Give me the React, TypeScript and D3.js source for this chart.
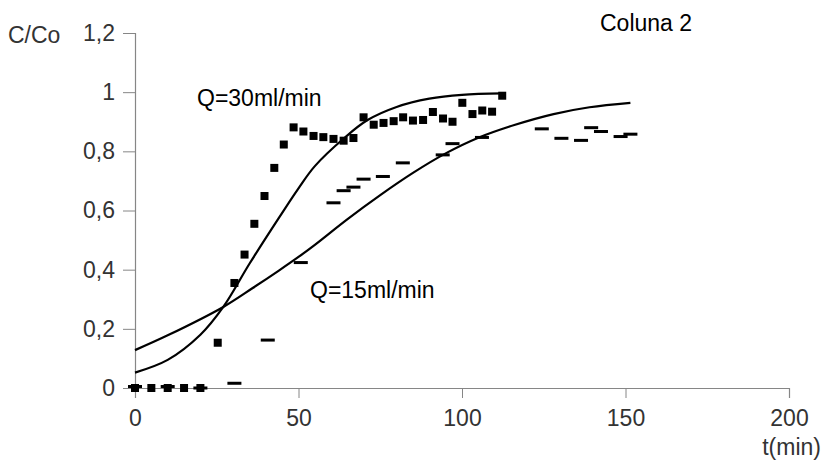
import * as d3 from "d3";
import React, { useEffect, useRef } from "react";

// Q=30ml/min measured points (t in min, C/Co)
const t30 = [0, 5, 10, 15, 20, 25.3, 30.4, 33.5, 36.5, 39.6, 42.6, 45.5, 48.5, 51.5, 54.6, 57.6, 60.7, 63.8, 66.8, 69.9, 73, 76, 79.1, 82, 85, 88.1, 91.1, 94.2, 97.1, 100.1, 103.2, 106.2, 109.2, 112.3];
const c30 = [0, 0, 0, 0, 0, 0.153, 0.355, 0.451, 0.555, 0.649, 0.744, 0.823, 0.881, 0.867, 0.852, 0.848, 0.842, 0.836, 0.845, 0.915, 0.89, 0.896, 0.902, 0.915, 0.904, 0.906, 0.933, 0.911, 0.9, 0.964, 0.926, 0.938, 0.934, 0.988];

// Q=15ml/min measured points
const t15 = [0, 10, 20, 30.4, 40.6, 50.7, 60.7, 63.8, 66.8, 69.9, 75.8, 81.9, 94.1, 97.1, 106.1, 124.4, 130.4, 136.4, 139.5, 142.5, 148.5, 151.5];
const c15 = [0.005, 0.005, 0, 0.016, 0.162, 0.424, 0.626, 0.667, 0.679, 0.706, 0.715, 0.761, 0.788, 0.826, 0.847, 0.876, 0.844, 0.837, 0.88, 0.867, 0.85, 0.858];

// fitted curves
const fitT30 = [0, 10, 20, 27, 35, 44, 50, 55, 64, 71, 80, 90, 100, 112.3];
const fitC30 = [0.052, 0.095, 0.18, 0.274, 0.42, 0.575, 0.675, 0.75, 0.845, 0.905, 0.95, 0.978, 0.991, 0.996];
const fitT15 = [0, 10, 27, 36, 44, 50, 55, 65, 75, 85, 95, 105, 116, 128, 139, 151.5];
const fitC15 = [0.128, 0.178, 0.274, 0.338, 0.397, 0.443, 0.484, 0.571, 0.652, 0.727, 0.793, 0.846, 0.889, 0.926, 0.949, 0.964];

const xTicks = [0, 50, 100, 150, 200];
const yTicks = [0, 0.2, 0.4, 0.6, 0.8, 1, 1.2];

export default function App() {
  const svgRef = useRef(null);
  const width = 824;
  const height = 474;
  const margin = { top: 33, right: 35, bottom: 86, left: 135 };
  const font = "'Liberation Sans', Arial, sans-serif";
  const fontSize = "23px";

  useEffect(() => {
    const svgEl = d3.select(svgRef.current);
    svgEl.selectAll("*").remove();

    const xScale = d3.scaleLinear().domain([0, 200]).range([margin.left, width - margin.right]);
    const yScale = d3.scaleLinear().domain([0, 1.2]).range([height - margin.bottom, margin.top]);
    const axisColor = "#868686";
    const textColor = "#333";

    // X axis
    const gx = svgEl
      .append("g")
      .attr("transform", "translate(0," + yScale(0) + ")")
      .call(d3.axisBottom(xScale).tickValues(xTicks).tickSize(10).tickPadding(12).tickFormat((d) => String(d)));
    gx.select(".domain").attr("stroke", axisColor).attr("stroke-width", 1.2);
    gx.selectAll("line").attr("stroke", axisColor);
    gx.selectAll("text").attr("fill", textColor).attr("font-size", fontSize).attr("font-family", font);

    // Y axis
    const gy = svgEl
      .append("g")
      .attr("transform", "translate(" + xScale(0) + ",0)")
      .call(
        d3
          .axisLeft(yScale)
          .tickValues(yTicks)
          .tickSize(12)
          .tickPadding(8)
          .tickFormat((d) => (d === 0 ? "0" : d3.format("~g")(d).replace(".", ",")))
      );
    gy.select(".domain").attr("stroke", axisColor).attr("stroke-width", 1.2);
    gy.selectAll("line").attr("stroke", axisColor);
    gy.selectAll("text").attr("fill", textColor).attr("font-size", fontSize).attr("font-family", font);

    const line = d3
      .line()
      .x((d) => xScale(d[0]))
      .y((d) => yScale(d[1]))
      .curve(d3.curveCatmullRom.alpha(0.5));

    svgEl
      .append("path")
      .datum(fitT30.map((t, i) => [t, fitC30[i]]))
      .attr("fill", "none")
      .attr("stroke", "#000")
      .attr("stroke-width", 2.2)
      .attr("d", line);

    svgEl
      .append("path")
      .datum(fitT15.map((t, i) => [t, fitC15[i]]))
      .attr("fill", "none")
      .attr("stroke", "#000")
      .attr("stroke-width", 2.2)
      .attr("d", line);

    // 15 ml/min dashes
    svgEl
      .append("g")
      .selectAll("rect")
      .data(t15.map((t, i) => [t, c15[i]]))
      .join("rect")
      .attr("x", (d) => xScale(d[0]) - 7)
      .attr("y", (d) => yScale(d[1]) - 1.5)
      .attr("width", 14)
      .attr("height", 3)
      .attr("fill", "#000");

    // 30 ml/min squares
    svgEl
      .append("g")
      .selectAll("rect")
      .data(t30.map((t, i) => [t, c30[i]]))
      .join("rect")
      .attr("x", (d) => xScale(d[0]) - 4)
      .attr("y", (d) => yScale(d[1]) - 4)
      .attr("width", 8)
      .attr("height", 8)
      .attr("fill", "#000");

    const label = (x, y, txt, anchor = "start", fill = "#000") =>
      svgEl
        .append("text")
        .attr("x", x)
        .attr("y", y)
        .attr("text-anchor", anchor)
        .attr("font-size", fontSize)
        .attr("font-family", font)
        .attr("fill", fill)
        .text(txt);

    label(8, 43, "C/Co", "start", textColor);
    label(600, 31, "Coluna 2");
    label(197, 106, "Q=30ml/min");
    label(310, 298, "Q=15ml/min");
    label(821, 455, "t(min)", "end", textColor);
  });

  return (
    <div style={{ position: "absolute", left: 0, top: 0 }}>
      <svg width={width} height={height} ref={svgRef} style={{ display: "block", background: "#fff" }}></svg>
    </div>
  );
}
